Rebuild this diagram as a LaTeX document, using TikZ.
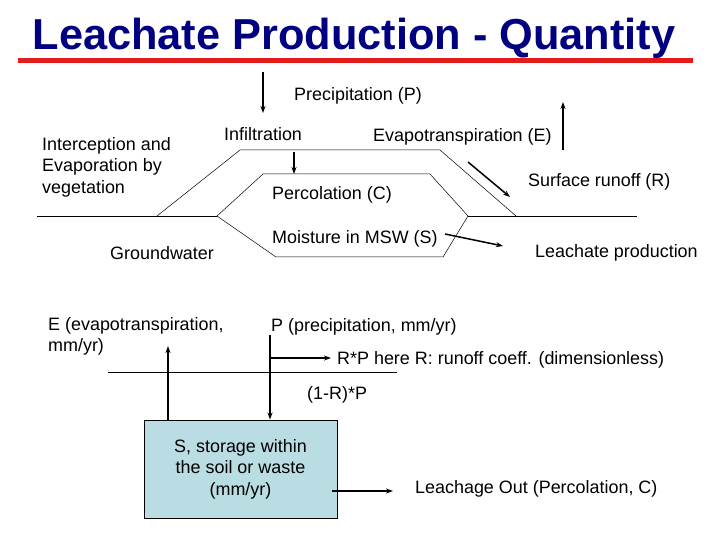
\documentclass[tikz,border=0pt]{standalone}
\usepackage{fontspec}
\setmainfont{Liberation Sans}
\usepackage{tikz}
\usetikzlibrary{positioning,arrows.meta,calc}
\definecolor{titleCol}{HTML}{000080}
\definecolor{ruleCol}{HTML}{E31B1B}
\definecolor{storeFill}{HTML}{B9DDE3}
\definecolor{arrowCol}{HTML}{000000}

\begin{document}
\begin{tikzpicture}[
  x=1bp, y=-1bp,
  font=\fontsize{18}{21.5}\selectfont,
  lbl/.style={anchor=base west, inner sep=0pt},
  lbltwo/.style={anchor=north west, inner sep=0pt, align=left},
  flow/.style={-{Stealth[length=7bp,width=5bp]}, line width=1.5bp, draw=arrowCol},
  ground/.style={line width=0.9bp},
  layer/.style={line width=0.5bp},
  storebox/.style={draw, line width=0.9bp, fill=storeFill, minimum width=193bp,
              minimum height=98bp, align=center, inner sep=0pt},
]
\useasboundingbox (0,0) rectangle (720,540);

% ---- Titulo ----
\node[font=\fontsize{43.5}{50}\selectfont\bfseries, text=titleCol, inner sep=0pt, anchor=base]
  (title) at (354,50) {Leachate Production - Quantity};
\draw[ruleCol, line width=5bp] (18,61) -- (693,61);

% ---- Etiquetas arriba ----
\node[lbl] (precipLbl) at (294,101)  {Precipitation (P)};
\node[lbl] (infilLbl)  at (224,141)  {Infiltration};
\node[lbl] (evapLbl)   at (373,142)  {Evapotranspiration (E)};
\node[lbltwo] (interLbl) at (42,137) {Interception and\\Evaporation by\\vegetation};
\node[lbl] (percLbl)   at (272,200)  {Percolation (C)};
\node[lbl] (moistLbl)  at (272,244)  {Moisture in MSW (S)};
\node[lbl] (groundLbl) at (110,260)  {Groundwater};
\node[lbl] (runoffLbl) at (528,187)  {Surface runoff (R)};
\node[lbl] (leachLbl)  at (535,258)  {Leachate production};

% ---- Capas del relleno ----
\draw[ground] (37,216) -- (217,216);
\draw[ground] (468,216) -- (637,216);
\draw[layer] (157,216) -- (240,150) -- (440,150) -- (516,216);
\draw[layer] (217,216) -- (263,174) -- (430,174) -- (468,216) -- (443,257) -- (276,257) -- cycle;

% ---- Flujos arriba ----
\coordinate (precipTop) at (263,72);
\coordinate (precipBot) at (263,113);
\coordinate (infilTop)  at (294,152);
\coordinate (infilBot)  at (294,174);
\coordinate (evapBot)   at (563,150);
\coordinate (evapTop)   at (563,102);
\coordinate (runoffA)   at (468,162);
\coordinate (runoffB)   at (510,197);
\coordinate (leachA)    at (445,234);
\coordinate (leachB)    at (503,246);
\draw[flow] (precipTop) -- (precipBot);
\draw[flow] (infilTop) -- (infilBot);
\draw[flow] (evapBot) -- (evapTop);
\draw[flow] (runoffA) -- (runoffB);
\draw[flow] (leachA) -- (leachB);

% ---- Balance abajo ----
\node[lbltwo] (eLbl) at (48,317)  {E (evapotranspiration,\\mm/yr)};
\node[lbl] (pLbl)    at (271,331) {P (precipitation, mm/yr)};
\node[lbl] (rpLbl)   at (337,364) {R*P here R: runoff coeff. (dimensionless)};
\node[lbl] (netLbl)  at (307,399) {(1-R)*P};
\node[storebox] (store) at (240.5,469) {S, storage within\\the soil or waste\\(mm/yr)};
\node[lbl] (outLbl)  at (415,493) {Leachage Out (Percolation, C)};

\draw[ground] (108,372) -- (397,372);

\coordinate (eTop)  at (168,346);
\coordinate (pTop)  at (270,335);
\coordinate (rpEnd) at (331,358);
\coordinate (outA)  at (332,491);
\coordinate (outB)  at (393,491);
\draw[flow] (eTop |- store.north) -- (eTop);
\draw[flow] (pTop) -- (pTop |- store.north);
\draw[flow] (pTop |- rpEnd) -- (rpEnd);
\draw[flow] (outA) -- (outB);

\end{tikzpicture}
\end{document}
